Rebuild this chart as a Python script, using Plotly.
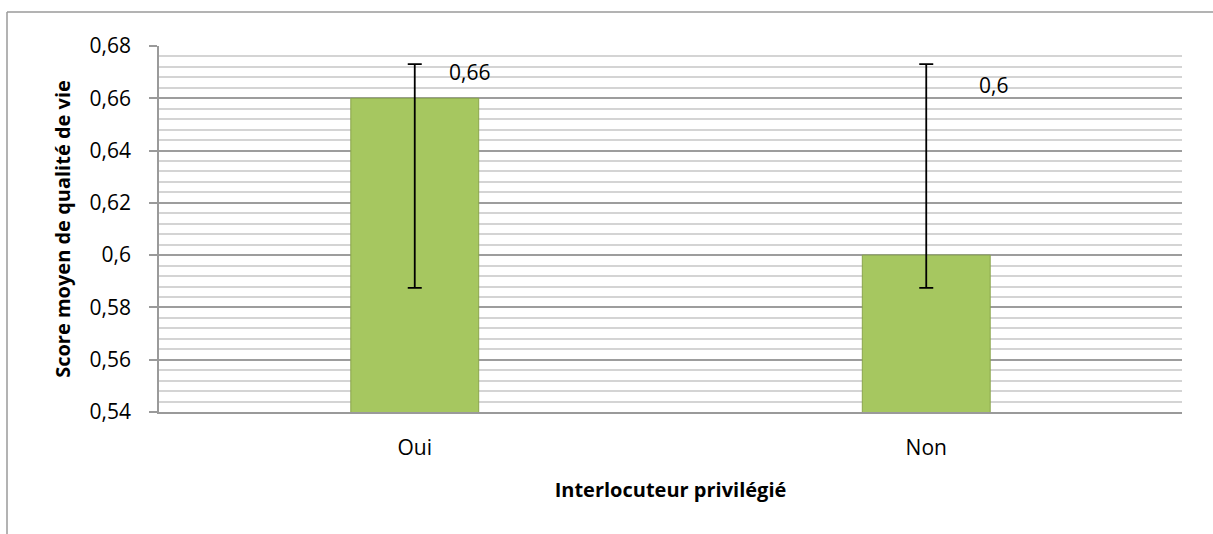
import plotly.graph_objects as go

categories = ["Oui", "Non"]
means = [0.66, 0.60]
err_plus = [0.0131, 0.0731]
err_minus = [0.0725, 0.0125]
value_labels = ["0,66", "0,6"]
tick_vals = [0.54, 0.56, 0.58, 0.60, 0.62, 0.64, 0.66, 0.68]
tick_text = ["0,54", "0,56", "0,58", "0,6", "0,62", "0,64", "0,66", "0,68"]

# label placement (style)
label_y = [0.6701, 0.6651]
label_xshift = [55, 67]

FONT = "Open Sans"

fig = go.Figure()
fig.add_trace(go.Bar(
    x=categories, y=means,
    marker=dict(color="#a6c760", line=dict(color="#8aa64c", width=1)),
    width=0.25,
    error_y=dict(type="data", symmetric=False, array=err_plus, arrayminus=err_minus,
                 color="black", thickness=1.8, width=7),
))

for c, t, yy, xs in zip(categories, value_labels, label_y, label_xshift):
    fig.add_annotation(x=c, y=yy, text=t, showarrow=False, xshift=xs,
                       font=dict(family=FONT, size=21, color="black"))

W, H = 1213, 534
L, R, T, B = 159, 31, 46, 122
pw, ph = W - L - R, H - T - B
def px(x): return (x - L) / pw
def py(y): return (H - B - y) / ph

# outer chart frame
fig.add_shape(type="line", xref="paper", yref="paper", x0=px(7), x1=px(7), y0=py(12), y1=py(540),
              line=dict(color="#9a9a9a", width=1.5))
fig.add_shape(type="line", xref="paper", yref="paper", x0=px(7), x1=px(1220), y0=py(12), y1=py(12),
              line=dict(color="#9a9a9a", width=1.5))

fig.update_layout(
    width=W, height=H,
    margin=dict(l=L, r=R, t=T, b=B),
    plot_bgcolor="white", paper_bgcolor="white",
    showlegend=False,
    font=dict(family=FONT, size=21, color="black"),
    xaxis=dict(
        showline=True, linecolor="#9a9a9a", linewidth=1.5,
        ticks="", tickfont=dict(size=21), ticklabelstandoff=16,
        title=dict(text="<b>Interlocuteur privilégié</b>", font=dict(size=20), standoff=23),
    ),
    yaxis=dict(
        range=[0.54, 0.68],
        tickvals=tick_vals, ticktext=tick_text,
        showline=True, linecolor="#9a9a9a", linewidth=1.5,
        ticks="outside", ticklen=8, tickcolor="#9a9a9a", tickwidth=1.5,
        ticklabelstandoff=14,
        showgrid=True, gridcolor="#9d9d9d", gridwidth=1.5,
        minor=dict(dtick=0.004, tick0=0.54, showgrid=True, gridcolor="#d4d4d4", gridwidth=1.5),
        zeroline=False,
        tickfont=dict(size=21),
        title=dict(text="<b>Score moyen de qualité de vie</b>", font=dict(size=20), standoff=14),
    ),
)

fig.write_html("out.html", config={"displayModeBar": False},
               post_script="document.body.style.margin='0';")
